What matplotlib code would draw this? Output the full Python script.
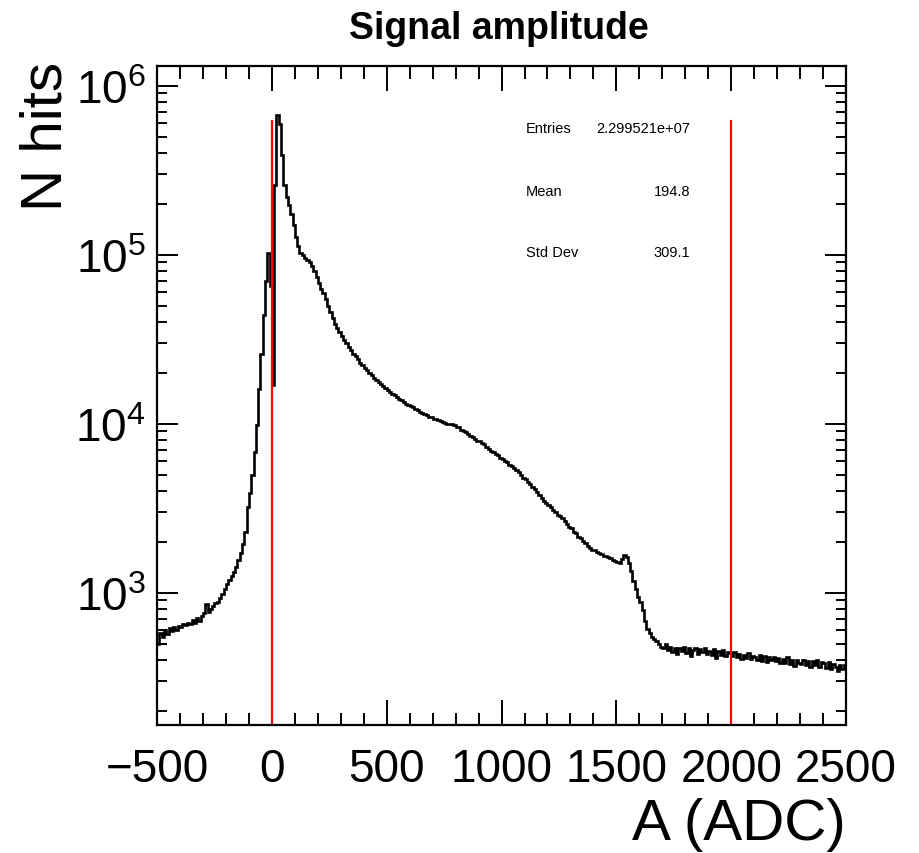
import numpy as np
import matplotlib
matplotlib.use('Agg')
import matplotlib.pyplot as plt
from matplotlib.ticker import MultipleLocator, LogLocator, NullFormatter

plt.rcParams['font.family'] = ['Liberation Sans', 'DejaVu Sans']
plt.rcParams['mathtext.fontset'] = 'custom'
plt.rcParams['mathtext.rm'] = 'Liberation Sans'
plt.rcParams['mathtext.it'] = 'Liberation Sans:italic'
plt.rcParams['mathtext.bf'] = 'Liberation Sans:bold'

# histogram: 10 ADC bins from -500 to 2500, one row per 100 ADC
bin_lo = -500
bin_width = 10
counts = [
    500, 580, 545, 600, 570, 615, 590, 625, 605, 635,                  # -500
    630, 650, 640, 660, 655, 690, 665, 705, 685, 725,                  # -400
    760, 860, 770, 805, 830, 865, 880, 935, 980, 1050,                 # -300
    1130, 1190, 1250, 1330, 1420, 1560, 1720, 1950, 2300, 3200,        # -200
    3900, 5000, 6800, 9800, 16000, 26000, 44000, 70000, 102000, 65000, # -100
    17000, 260000, 670000, 590000, 390000, 260000, 220000, 198000, 175000, 150000,  # 0
    128000, 112000, 103000, 99000, 96000, 93000, 90000, 86000, 80000, 74000,        # 100
    68000, 63000, 59000, 55000, 50000, 46000, 42000, 39000, 37000, 35000,  # 200
    33000, 31500, 30000, 28500, 27200, 26000, 25000, 24000, 23000, 22200,  # 300
    21500, 20800, 20000, 19400, 18700, 18100, 17600, 17200, 16700, 16200,  # 400
    15800, 15400, 15000, 14700, 14400, 14100, 13800, 13500, 13100, 12900,  # 500
    12700, 12500, 12300, 12000, 11800, 11600, 11400, 11200, 11000, 10900,  # 600
    10700, 10600, 10500, 10400, 10200, 10100, 10000, 9900, 10000, 9800,    # 700
    9600, 9500, 9200, 9100, 8900, 8700, 8500, 8300, 8100, 7900,            # 800
    7900, 7700, 7600, 7300, 7100, 6900, 6800, 6600, 6500, 6300,            # 900
    6200, 6000, 5900, 5700, 5600, 5500, 5350, 5200, 5000, 4800,            # 1000
    4700, 4550, 4400, 4250, 4100, 3950, 3800, 3650, 3500, 3400,            # 1100
    3300, 3200, 3100, 3000, 2900, 2850, 2750, 2650, 2550, 2450,            # 1200
    2400, 2300, 2250, 2150, 2100, 2020, 1970, 1900, 1850, 1800,            # 1300
    1780, 1750, 1720, 1700, 1660, 1640, 1620, 1600, 1570, 1550,            # 1400
    1520, 1500, 1580, 1680, 1620, 1500, 1350, 1180, 1050, 950,             # 1500
    880, 790, 680, 610, 575, 550, 530, 515, 500, 480,                      # 1600
    470, 495, 460, 478, 448, 472, 435, 468, 450, 478,                      # 1700
    440, 468, 425, 460, 470, 432, 462, 445, 472, 436,                      # 1800
    455, 430, 465, 412, 450, 428, 458, 420, 446, 440,                      # 1900
    420, 445, 414, 436, 405, 430, 412, 440, 404, 425,                      # 2000
    418, 400, 430, 395, 422, 388, 416, 398, 414, 392,                      # 2100
    410, 386, 404, 382, 416, 378, 402, 368, 398, 386,                      # 2200
    380, 402, 374, 396, 362, 392, 376, 400, 366, 388,                      # 2300
    382, 360, 390, 352, 380, 364, 346, 376, 352, 372,                      # 2400
]
edges = bin_lo + bin_width * np.arange(len(counts) + 1)

cut_positions = [0, 2000]
cut_top = 6.2e5

stat_names = ['Entries', 'Mean', 'Std Dev']
stat_values = ['2.299521e+07', '194.8', '309.1']

fig = plt.figure(figsize=(9.19, 8.54), dpi=100)
ax = fig.add_axes([0.1709, 0.1499, 0.7497, 0.7711])

ax.stairs(counts, edges, color='black', lw=1.9, baseline=None)
for xc in cut_positions:
    ax.plot([xc, xc], [1, cut_top], color='red', lw=1.6)

ax.set_yscale('log')
ax.set_xlim(-500, 2500)
ax.set_ylim(165, 1.3e6)

ax.xaxis.set_major_locator(MultipleLocator(500))
ax.xaxis.set_minor_locator(MultipleLocator(100))
ax.yaxis.set_major_locator(LogLocator(base=10))
ax.yaxis.set_minor_locator(LogLocator(base=10, subs=np.arange(2, 10)))
ax.yaxis.set_minor_formatter(NullFormatter())

ax.tick_params(which='both', direction='in', top=True, right=True, width=1.4)
ax.tick_params(axis='x', which='major', length=18, labelsize=33, pad=16)
ax.tick_params(axis='x', which='minor', length=9)
ax.tick_params(axis='y', which='major', length=15, labelsize=33, pad=8)
ax.tick_params(axis='y', which='minor', length=7.5)
for sp in ax.spines.values():
    sp.set_linewidth(1.6)

fig.text(0.543, 0.966, 'Signal amplitude', ha='center', va='center',
         fontsize=27, fontweight='bold')
fig.text(0.051, 0.927, 'N hits', rotation=90, ha='center', va='top', fontsize=42)
fig.text(0.9206, 0.0164, 'A (ADC)', ha='right', va='baseline', fontsize=42)

stat_y = [0.849, 0.7752, 0.7037]
for name, val, yy in zip(stat_names, stat_values, stat_y):
    fig.text(0.5724, yy, name, ha='left', va='center', fontsize=10.5)
    fig.text(0.7508, yy, val, ha='right', va='center', fontsize=10.5)

fig.savefig('out.png', dpi=100)
